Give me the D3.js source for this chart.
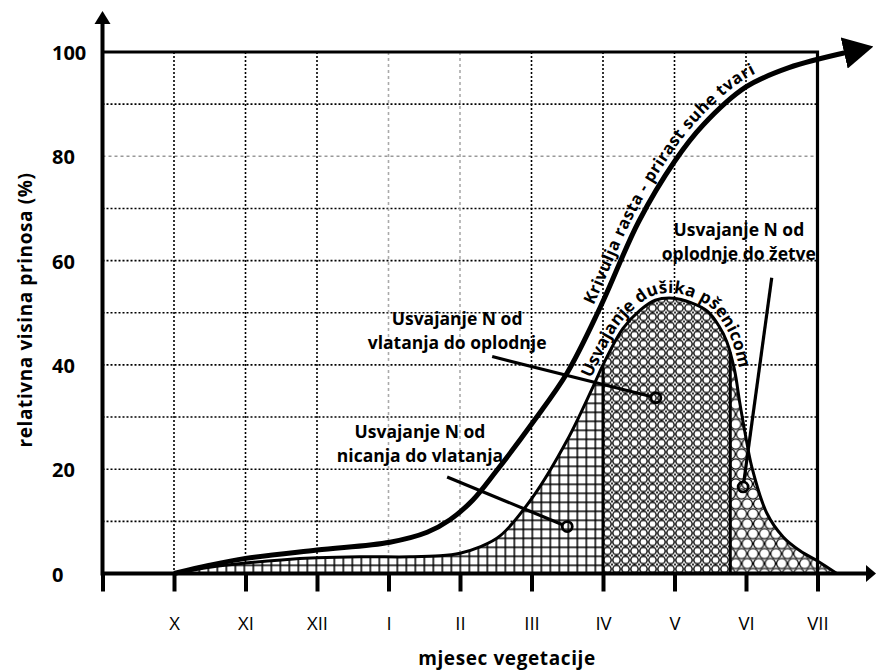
<!DOCTYPE html>
<html><head><meta charset="utf-8">
<script src="https://cdn.jsdelivr.net/npm/d3@7"></script>
<style>body{margin:0;background:#fff} svg{display:block}</style>
</head><body><svg id="c" width="876" height="672"></svg>
<script>
// ---------- data ----------
const monthLabels = ["", "X", "XI", "XII", "I", "II", "III", "IV", "V", "VI", "VII"];
const monthIndex = [0, 1, 2, 3, 4, 5, 6, 7, 8, 9, 10];
const yTicks = [0, 20, 40, 60, 80, 100];
const gridY = [10, 20, 30, 40, 50, 60, 70, 80, 90];
const gridX = [1, 2, 3, 4, 5, 6, 7, 8, 9];
// growth curve (dry matter), [month index, %]
const growthCurve = [[1.0,0],[1.5,1.6],[2.0,2.9],[3.0,4.5],[4.02,6.0],[4.54,7.9],[4.86,10.3],[5.18,14.1],[5.5,19.5],[6.02,29],[6.5,38.5],[6.96,51],[7.5,67.5],[8.0,79],[8.4,86],[9.0,93.3],[9.6,97],[10.4,99.9]];
// N uptake curve, [month index, %]
const nUptake = [[1.0,0],[1.5,1.2],[2.0,2.0],[2.5,2.6],[3.0,3.0],[3.6,3.2],[4.3,3.2],[4.72,3.4],[5.0,3.9],[5.28,5.1],[5.56,7.2],[6.02,14.7],[6.5,25.6],[6.86,35.8],[7.0,40],[7.28,47],[7.52,50.5],[7.73,52.4],[7.98,52.8],[8.22,52],[8.46,50.3],[8.62,47.5],[8.73,44.5],[8.84,39],[8.91,33],[9.0,26],[9.08,20.5],[9.29,11.6],[9.52,7.0],[9.76,4.3],[10.0,2.4],[10.27,0]];
const phaseBounds = [1.0, 7.0, 8.78, 10.27];
const phasePatterns = ["pGrid", "pCirc", "pHex"];
const growthLabel = "Krivulja rasta - prirast suhe tvari";
const nLabel = "Usvajanje dušika pšenicom";
const growthLabelStart = 6.95;
const nLabelStart = 6.9;
// annotations: text lines, anchor [idx, %] of first baseline, leader from -> to (circle)
const annotations = [
  {lines: ["Usvajanje N od", "nicanja do vlatanja"], at: [4.44, 26.0], from: [4.82, 18.5], to: [6.5, 9.0]},
  {lines: ["Usvajanje N od", "vlatanja do oplodnje"], at: [4.96, 47.7], from: [5.45, 41.6], to: [7.74, 33.7]},
  {lines: ["Usvajanje N od", "oplodnje do žetve"], at: [8.9, 64.7], from: [9.36, 56.7], to: [8.96, 16.6]}
];
const xTitle = "mjesec vegetacije";
const yTitle = "relativna visina prinosa (%)";

// ---------- drawing ----------
const FONT = "'Open Sans', Lato, sans-serif";
const svg = d3.select("#c");
const x = d3.scaleLinear().domain([0, 10]).range([102.5, 817.5]);
const y = d3.scaleLinear().domain([0, 100]).range([573.5, 52]);

const defs = svg.append("defs");
// grid pattern
const pg = defs.append("pattern").attr("id", "pGrid").attr("patternUnits", "userSpaceOnUse")
  .attr("width", 9).attr("height", 9).attr("x", 0.5).attr("y", 573.5);
pg.append("rect").attr("width", 9).attr("height", 9).attr("fill", "#fff");
pg.append("path").attr("d", "M0,0.75H9M0.75,0V9").attr("stroke", "#000").attr("stroke-width", 1.6);
// circles grid pattern
const pc = defs.append("pattern").attr("id", "pCirc").attr("patternUnits", "userSpaceOnUse")
  .attr("width", 9).attr("height", 9).attr("x", 603).attr("y", 573.5);
pc.append("rect").attr("width", 9).attr("height", 9).attr("fill", "#fff");
pc.append("circle").attr("cx", 4.5).attr("cy", 4.5).attr("r", 3.7).attr("fill", "none").attr("stroke", "#000").attr("stroke-width", 1.4);
[[0,0],[9,0],[0,9],[9,9]].forEach(p => pc.append("circle").attr("cx", p[0]).attr("cy", p[1]).attr("r", 1.1).attr("fill", "#000"));
// hex circles pattern
const hw = 11.5, hh = 19.9;
const ph = defs.append("pattern").attr("id", "pHex").attr("patternUnits", "userSpaceOnUse")
  .attr("width", hw).attr("height", hh).attr("x", 730).attr("y", 573.5);
ph.append("rect").attr("width", hw).attr("height", hh).attr("fill", "#fff");
[[0,0],[hw,0],[hw/2,hh/2],[0,hh],[hw,hh]].forEach(p => ph.append("circle").attr("cx", p[0]).attr("cy", p[1]).attr("r", 5.2).attr("fill", "none").attr("stroke", "#000").attr("stroke-width", 1.2));

// arrow marker
defs.append("marker").attr("id", "arr").attr("markerUnits", "userSpaceOnUse")
  .attr("viewBox", "0 0 30 32").attr("markerWidth", 30).attr("markerHeight", 32)
  .attr("refX", 2).attr("refY", 16).attr("orient", "auto")
  .append("path").attr("d", "M0,0L30,16L0,32Z").attr("fill", "#000");

// gridlines
svg.append("g").selectAll("line").data(gridY).join("line")
  .attr("x1", x(0)).attr("x2", x(10)).attr("y1", d => y(d)).attr("y2", d => y(d))
  .attr("stroke", d => d === 80 ? "#999" : "#000").attr("stroke-width", 1.6)
  .attr("stroke-dasharray", d => d === 80 ? "3,3" : "2,2");
svg.append("g").selectAll("line").data(gridX).join("line")
  .attr("y1", y(100)).attr("y2", y(0)).attr("x1", d => x(d)).attr("x2", d => x(d))
  .attr("stroke", d => (d === 4 || d === 5) ? "#aaa" : "#000").attr("stroke-width", 1.6)
  .attr("stroke-dasharray", d => (d === 4 || d === 5) ? "3,3" : "2,2");

// hatched areas
const crv = d3.curveCatmullRom.alpha(0.5);
const area = d3.area().x(d => x(d[0])).y0(y(0)).y1(d => y(d[1])).curve(crv);
const lineGen = d3.line().x(d => x(d[0])).y(d => y(d[1])).curve(crv);
for (let i = 0; i < 3; i++) {
  defs.append("clipPath").attr("id", "clip" + i).append("rect")
    .attr("x", x(phaseBounds[i])).attr("width", x(phaseBounds[i + 1]) - x(phaseBounds[i]))
    .attr("y", 0).attr("height", y(0));
  svg.append("path").datum(nUptake).attr("d", area).attr("fill", `url(#${phasePatterns[i]})`)
    .attr("clip-path", `url(#clip${i})`);
}
const nPath = svg.append("path").datum(nUptake).attr("d", lineGen).attr("fill", "none")
  .attr("stroke", "#000").attr("stroke-width", 3);
function curveYAt(pathEl, px) {
  const L = pathEl.getTotalLength(); let lo = 0, hi = L;
  for (let k = 0; k < 40; k++) { const m = (lo + hi) / 2; if (pathEl.getPointAtLength(m).x < px) lo = m; else hi = m; }
  return pathEl.getPointAtLength(lo).y;
}
[phaseBounds[1], phaseBounds[2]].forEach(b => {
  svg.append("line").attr("x1", x(b)).attr("x2", x(b)).attr("y1", curveYAt(nPath.node(), x(b)))
    .attr("y2", y(0)).attr("stroke", "#000").attr("stroke-width", 3);
});

// growth curve
const gPath = svg.append("path").datum(growthCurve).attr("d", lineGen).attr("fill", "none")
  .attr("stroke", "#000").attr("stroke-width", 5).attr("marker-end", "url(#arr)");

// text along curves
function offsetPts(pathEl, off, xa) {
  const L = pathEl.getTotalLength(), n = 500, pts = [];
  for (let i = 0; i <= n; i++) {
    const l = L * i / n, p = pathEl.getPointAtLength(l);
    const p1 = pathEl.getPointAtLength(Math.max(0, l - 1.5)), p2 = pathEl.getPointAtLength(Math.min(L, l + 1.5));
    let dx = p2.x - p1.x, dy = p2.y - p1.y; const m = Math.hypot(dx, dy) || 1; dx /= m; dy /= m;
    if (p.x >= xa) pts.push([p.x + dy * off, p.y - dx * off]);
  }
  return pts;
}
function curveText(id, pathEl, off, start, txt, size, ls) {
  const pts = offsetPts(pathEl, off, x(start));
  defs.append("path").attr("id", id).attr("d", d3.line().curve(d3.curveBasis)(pts));
  svg.append("text").attr("font-family", FONT).attr("font-weight", "bold").attr("font-size", size)
    .attr("letter-spacing", ls)
    .append("textPath").attr("href", "#" + id).text(txt);
}
curveText("tp1", gPath.node(), 7, growthLabelStart, growthLabel, 16.5, 0.6);
curveText("tp2", nPath.node(), 5, nLabelStart, nLabel, 17, 0.2);

// annotations
annotations.forEach(a => {
  const t = svg.append("text").attr("font-family", FONT).attr("font-weight", "bold").attr("font-size", 17.5)
    .attr("text-anchor", "middle");
  a.lines.forEach((ln, i) => t.append("tspan").attr("x", x(a.at[0])).attr("y", y(a.at[1]) + i * 24).text(ln));
  const x1 = x(a.from[0]), y1 = y(a.from[1]), x2 = x(a.to[0]), y2 = y(a.to[1]);
  const d = Math.hypot(x2 - x1, y2 - y1), r = 5;
  svg.append("line").attr("x1", x1).attr("y1", y1).attr("x2", x2 - (x2 - x1) / d * r).attr("y2", y2 - (y2 - y1) / d * r)
    .attr("stroke", "#000").attr("stroke-width", 3.2);
  svg.append("circle").attr("cx", x2).attr("cy", y2).attr("r", r).attr("fill", "none").attr("stroke", "#000").attr("stroke-width", 2.8);
});

// frame (top and right)
svg.append("path").attr("d", `M${x(0)},${y(100)}H${x(10)}V${y(0)}`).attr("fill", "none").attr("stroke", "#000").attr("stroke-width", 3.2);

// axes
const xAxis = svg.append("g").attr("transform", `translate(0,${y(0)})`)
  .call(d3.axisBottom(x).tickValues(monthIndex).tickFormat(i => monthLabels[i]).tickSize(18));
xAxis.select(".domain").remove();
xAxis.selectAll(".tick line").attr("stroke", "#000").attr("stroke-width", 4);
xAxis.selectAll(".tick text").attr("y", 56.5).attr("dy", 0).attr("font-family", FONT).attr("font-size", 18.5).attr("fill", "#000");

const yAxis = svg.append("g").attr("transform", `translate(${x(0)},0)`)
  .call(d3.axisLeft(y).tickValues(yTicks).tickSize(0));
yAxis.select(".domain").remove();
yAxis.selectAll(".tick text").attr("x", 52 - x(0)).attr("dy", 0).attr("y", 7.5).attr("text-anchor", "start")
  .attr("font-family", FONT).attr("font-weight", "bold").attr("font-size", 20).attr("fill", "#000");

// axis lines with arrows
svg.append("line").attr("x1", x(0) - 1.5).attr("x2", 867).attr("y1", y(0)).attr("y2", y(0)).attr("stroke", "#000").attr("stroke-width", 4);
svg.append("path").attr("d", `M866,${y(0) - 8.5}L876,${y(0)}L866,${y(0) + 8.5}Z`).attr("fill", "#000");
svg.append("line").attr("x1", x(0)).attr("x2", x(0)).attr("y1", y(0) + 2).attr("y2", 23).attr("stroke", "#000").attr("stroke-width", 4);
svg.append("path").attr("d", `M${x(0) - 8},24L${x(0)},11L${x(0) + 8},24Z`).attr("fill", "#000");

// titles
svg.append("text").attr("x", 507).attr("y", 665).attr("text-anchor", "middle").attr("font-family", FONT)
  .attr("font-weight", "bold").attr("font-size", 19).attr("letter-spacing", 0.6).text(xTitle);
svg.append("text").attr("transform", "translate(32,310) rotate(-90)").attr("text-anchor", "middle").attr("font-family", FONT)
  .attr("font-weight", "bold").attr("font-size", 19).attr("letter-spacing", 0.6).text(yTitle);
</script></body></html>
